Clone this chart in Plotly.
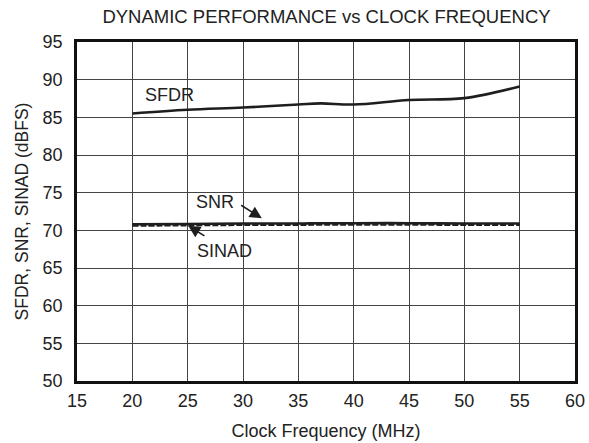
import plotly.graph_objects as go

freq = [20, 25, 30, 35, 37, 40, 45, 50, 55]
sfdr = [85.5, 86.0, 86.3, 86.7, 86.85, 86.7, 87.3, 87.55, 89.1]
snr = [70.8, 70.85, 70.9, 70.9, 70.95, 70.95, 70.95, 70.9, 70.9]
sinad = [70.6, 70.65, 70.7, 70.7, 70.75, 70.75, 70.75, 70.7, 70.7]

x_ticks = [15, 20, 25, 30, 35, 40, 45, 50, 55, 60]
y_ticks = [50, 55, 60, 65, 70, 75, 80, 85, 90, 95]

font = "Liberation Sans, Arial, sans-serif"
ink = "#1e1e1e"

fig = go.Figure()
fig.add_trace(go.Scatter(x=freq, y=sfdr, mode="lines", line=dict(color=ink, width=2.6, shape="spline"), showlegend=False))
fig.add_trace(go.Scatter(x=freq, y=sinad, mode="lines", line=dict(color=ink, width=2.0, dash="6px,2px", shape="spline"), showlegend=False))
fig.add_trace(go.Scatter(x=freq, y=snr, mode="lines", line=dict(color=ink, width=2.6, shape="spline"), showlegend=False))

tfont = dict(size=18, color="#222")
fig.add_annotation(x=23.4, y=88.0, text="SFDR", showarrow=False, font=tfont)
fig.add_annotation(x=27.5, y=73.8, text="SNR", showarrow=False, font=tfont)
fig.add_annotation(x=28.3, y=67.3, text="SINAD", showarrow=False, font=tfont)
fig.add_annotation(x=31.7, y=71.6, ax=29.7, ay=73.45, axref="x", ayref="y", text="",
                   showarrow=True, arrowhead=2, arrowsize=1.5, arrowwidth=1.6, arrowcolor=ink, standoff=0)
fig.add_annotation(x=25.05, y=70.6, ax=26.65, ay=69.15, axref="x", ayref="y", text="",
                   showarrow=True, arrowhead=2, arrowsize=1.5, arrowwidth=1.6, arrowcolor=ink, standoff=0)

fig.update_layout(
    width=589, height=443,
    margin=dict(l=77, r=14, t=42, b=62, autoexpand=False),
    paper_bgcolor="white", plot_bgcolor="white",
    font=dict(family=font, color="#222"),
    title=dict(text="DYNAMIC PERFORMANCE vs CLOCK FREQUENCY", x=326.5 / 589, xanchor="center",
               y=1 - 17 / 443, yanchor="middle", font=dict(size=18.5, color="#222")),
)
fig.update_xaxes(range=[15, 60], tickvals=x_ticks, ticktext=[str(v) for v in x_ticks],
                 showgrid=True, gridcolor="#444", gridwidth=1, zeroline=False,
                 showline=True, linecolor="#111", linewidth=2.5, mirror=True, automargin=False,
                 ticks="", ticklabelstandoff=2, tickfont=dict(size=18),
                 title=dict(text="Clock Frequency (MHz)", font=dict(size=18), standoff=15))
fig.update_yaxes(range=[50, 95], tickvals=y_ticks, ticktext=[str(v) for v in y_ticks],
                 showgrid=True, gridcolor="#444", gridwidth=1, zeroline=False,
                 showline=True, linecolor="#111", linewidth=2.5, mirror=True, automargin=False,
                 ticks="", ticklabelstandoff=8, tickfont=dict(size=18),
                 title=dict(text="SFDR, SNR, SINAD (dBFS)", font=dict(size=17.5), standoff=10))

fig.write_html("out.html", config={"displayModeBar": False},
               post_script="document.body.style.margin='0';")
